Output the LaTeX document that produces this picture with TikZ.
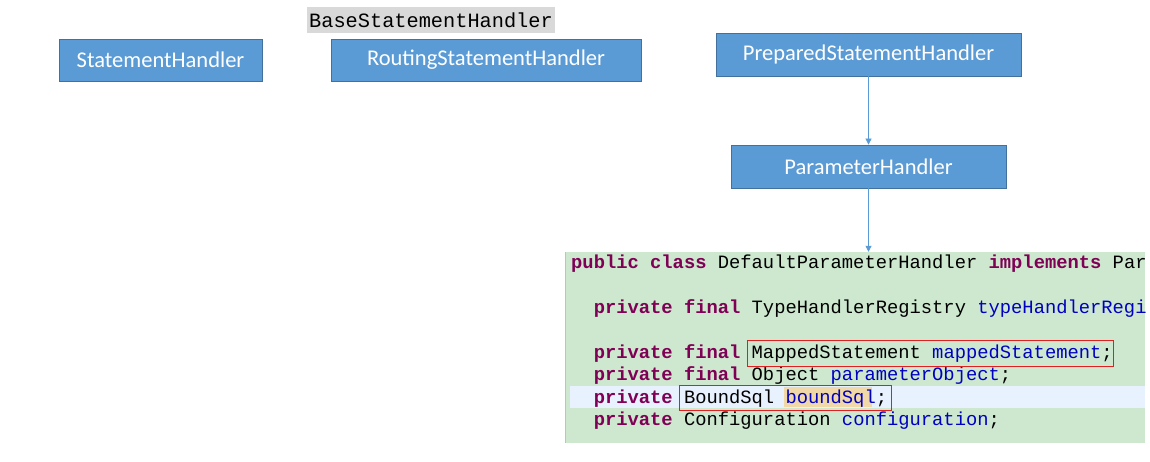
\documentclass[tikz,border=0pt]{standalone}
\usepackage{fontspec}
\setmainfont{Carlito}
\newfontfamily\codefont{Liberation Mono}
\usetikzlibrary{arrows.meta}
\definecolor{boxfill}{HTML}{5B9BD5}
\definecolor{boxdraw}{HTML}{41719C}
\definecolor{codebg}{HTML}{CDE8CF}
\definecolor{curline}{HTML}{E8F2FE}
\definecolor{kw}{HTML}{7F0055}
\definecolor{fld}{HTML}{0000C0}
\definecolor{tanhl}{HTML}{F0D8A8}
\definecolor{redbox}{HTML}{E02020}
\definecolor{graybg}{HTML}{D9D9D9}
\newcommand{\kwd}[1]{{\color{kw}\bfseries #1}}
\newcommand{\fldn}[1]{{\color{fld}#1}}
\tikzset{
  bluebox/.style={draw=boxdraw, fill=boxfill, text=white, font=\fontsize{22.5}{26}\selectfont, inner sep=0pt, line width=0.8pt},
  conn/.style={draw=boxfill, line width=0.8pt, -{Triangle[width=6pt,length=6pt]}},
  codeline/.style={anchor=base west, inner sep=0pt, text=black, font=\codefont\fontsize{18.8}{22}\selectfont},
  hlbox/.style={draw=redbox, line width=1pt}
}
\begin{document}
\begin{tikzpicture}[x=1pt,y=-1pt]
\useasboundingbox[fill=white] (0,0) rectangle (1150,462);
% top boxes
\node[bluebox, minimum width=203pt, minimum height=42pt] (sh) at (160.5,60) {StatementHandler};
\node[bluebox, minimum width=310pt, minimum height=42pt] (rsh) at (486,60) {RoutingStatementHandler};
\node[fill=graybg, inner sep=0pt, minimum width=248pt, minimum height=26pt, font=\codefont\fontsize{20.3}{24}\selectfont] (bsh) at (431,20) {BaseStatementHandler};
\node[bluebox, minimum width=305pt, minimum height=43pt] (psh) at (868.5,54.5) {PreparedStatementHandler};
\node[bluebox, minimum width=275pt, minimum height=43pt] (ph) at (868.5,166.5) {ParameterHandler};
% code block
\node[fill=codebg, inner sep=0pt, minimum width=579pt, minimum height=191pt] (code) at (855.5,347.5) {};
\draw[draw=codebg!70!gray, line width=1pt] (code.north west) -- (code.south west);
\fill[curline] (570,386) rectangle (1145,408);
\fill[tanhl] (784,387) rectangle (872,407);
\node[codeline] (l1) at (571,268) {\kwd{public} \kwd{class} DefaultParameterHandler \kwd{implements} Par};
\node[codeline] (l2) at (571,313) {\ \ \kwd{private} \kwd{final} TypeHandlerRegistry \fldn{typeHandlerRegi}};
\node[codeline] (l3) at (571,358) {\ \ \kwd{private} \kwd{final} MappedStatement \fldn{mappedStatement};};
\node[codeline] (l4) at (571,380.5) {\ \ \kwd{private} \kwd{final} Object \fldn{parameterObject};};
\node[codeline] (l5) at (571,403) {\ \ \kwd{private} BoundSql \fldn{boundSql};};
\node[codeline] (l6) at (571,425.5) {\ \ \kwd{private} Configuration \fldn{configuration};};
\draw[hlbox] (747,340) rectangle (1113,366);
\draw[hlbox] (679,385) rectangle (891,410);
% connectors
\draw[conn] (psh.south) -- (ph.north);
\draw[conn] (ph.south) -- (ph.south |- code.north);
\end{tikzpicture}
\end{document}
